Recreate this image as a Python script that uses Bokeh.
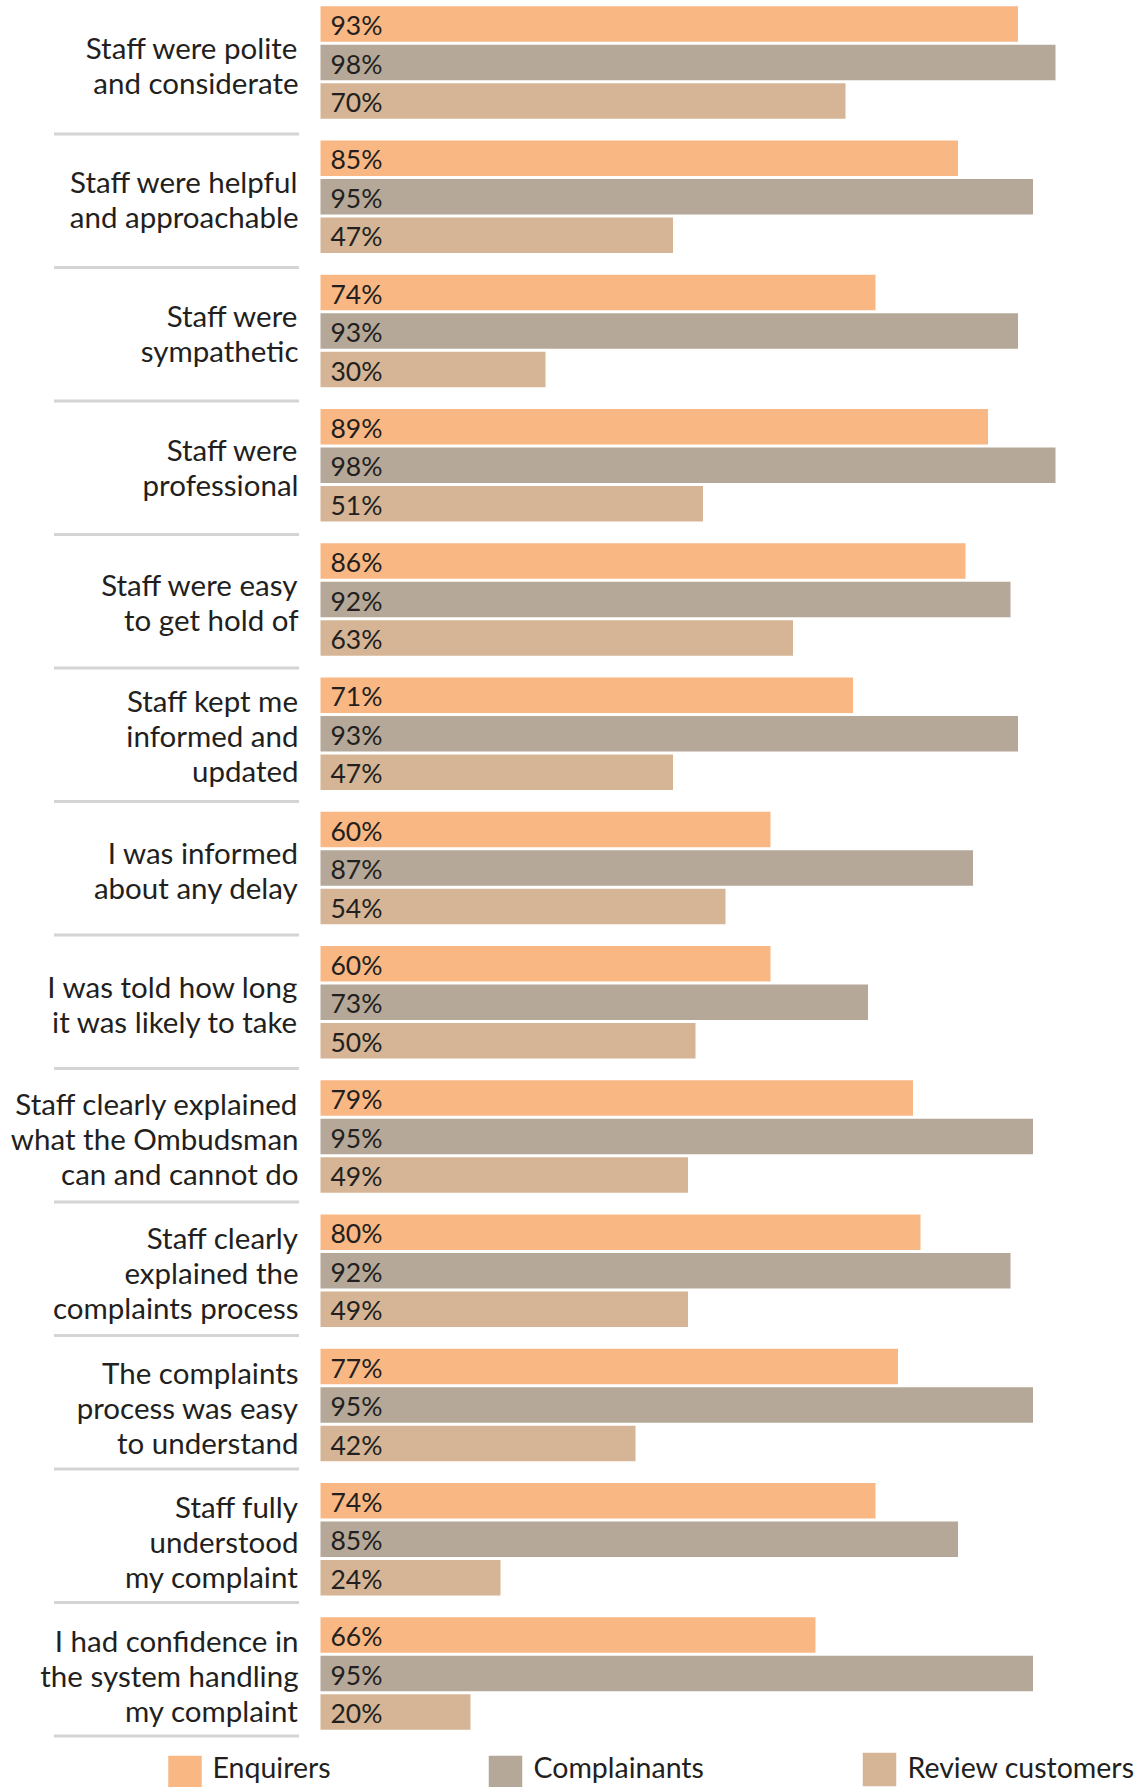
from bokeh.plotting import figure
from bokeh.models import Range1d, ColumnDataSource
from bokeh.core.properties import value
from bokeh.embed import file_html
from bokeh.resources import INLINE

# ---------------- data ----------------
categories = [
    ["Staff were polite", "and considerate"],
    ["Staff were helpful", "and approachable"],
    ["Staff were", "sympathetic"],
    ["Staff were", "professional"],
    ["Staff were easy", "to get hold of"],
    ["Staff kept me", "informed and", "updated"],
    ["I was informed", "about any delay"],
    ["I was told how long", "it was likely to take"],
    ["Staff clearly explained", "what the Ombudsman", "can and cannot do"],
    ["Staff clearly", "explained the", "complaints process"],
    ["The complaints", "process was easy", "to understand"],
    ["Staff fully", "understood", "my complaint"],
    ["I had confidence in", "the system handling", "my complaint"],
]
series_names = ["Enquirers", "Complainants", "Review customers"]
enquirers = [93, 85, 74, 89, 86, 71, 60, 60, 79, 80, 77, 74, 66]
complainants = [98, 95, 93, 98, 92, 93, 87, 73, 95, 92, 95, 85, 95]
review_customers = [70, 47, 30, 51, 63, 47, 54, 50, 49, 49, 42, 24, 20]

# ---------------- style / layout ----------------
W, H = 1144, 1787
COLORS = ["#F9B784", "#B5A898", "#D5B596"]
TEXT_COLOR = "#231F20"
FONT = "Lato"
PX_PER_PCT = 7.5
ZERO_X = 320.0
GROUP_PITCH = 134.25
FIRST_CENTER = 62.0
BAR_PITCH = 38.5
BAR_H = 35.5
SEP_PITCH = 133.5
LINE_H = 35.0

p = figure(width=W, height=H, output_backend="svg", toolbar_location=None,
           x_range=Range1d(-ZERO_X / PX_PER_PCT, (W - ZERO_X) / PX_PER_PCT),
           y_range=Range1d(H, 0), min_border=0, outline_line_color=None,
           x_axis_location=None, y_axis_location=None)
p.grid.visible = False
p.background_fill_color = "white"
p.border_fill_color = "white"

series = [enquirers, complainants, review_customers]
for k, vals in enumerate(series):
    ys = [FIRST_CENTER + GROUP_PITCH * i + (k - 1) * BAR_PITCH for i in range(len(vals))]
    src = ColumnDataSource(dict(y=ys, right=vals, label=[f"{v}%" for v in vals]))
    p.hbar(y="y", left=0, right="right", height=BAR_H, source=src,
           fill_color=COLORS[k], line_color=None)
    p.text(x=0, y="y", text="label", source=src, x_offset=10, y_offset=1,
           text_font=value(FONT), text_font_size="26.5px", text_color=TEXT_COLOR,
           text_baseline="middle", text_align="left")

# category labels
lx, ly, lt = [], [], []
for i, lines in enumerate(categories):
    c = FIRST_CENTER + GROUP_PITCH * i
    n = len(lines)
    for j, t in enumerate(lines):
        lx.append(0)
        ly.append(c + (j - (n - 1) / 2) * LINE_H)
        lt.append(t)
p.text(x=lx, y=ly, text=lt, x_offset=-22, y_offset=2,
       text_font=value(FONT), text_font_size="29.5px", text_color=TEXT_COLOR,
       text_baseline="middle", text_align="right")

# separators
sep_y = [SEP_PITCH * (i + 1) for i in range(len(categories))]
p.segment(x0=[(53.5 - ZERO_X) / PX_PER_PCT] * len(sep_y), x1=[(298.5 - ZERO_X) / PX_PER_PCT] * len(sep_y),
          y0=sep_y, y1=sep_y, line_color="#D4D4D4", line_width=3)

# legend
leg_x = [184.5, 505.0, 879.0]
leg_y = [1772.0, 1772.0, 1769.0]
leg_tx = [212.0, 533.0, 907.0]
leg_ty = [1766.0, 1766.0, 1766.0]
p.rect(x=[(x - ZERO_X) / PX_PER_PCT for x in leg_x], y=leg_y,
       width=33.5 / PX_PER_PCT, height=33.5, fill_color=COLORS, line_color=None)
p.text(x=[(x - ZERO_X) / PX_PER_PCT for x in leg_tx], y=leg_ty, text=series_names,
       text_font=value(FONT), text_font_size="28.5px", text_color=TEXT_COLOR,
       text_baseline="middle", text_align="left")

open("out.html", "w").write(file_html(p, INLINE))
